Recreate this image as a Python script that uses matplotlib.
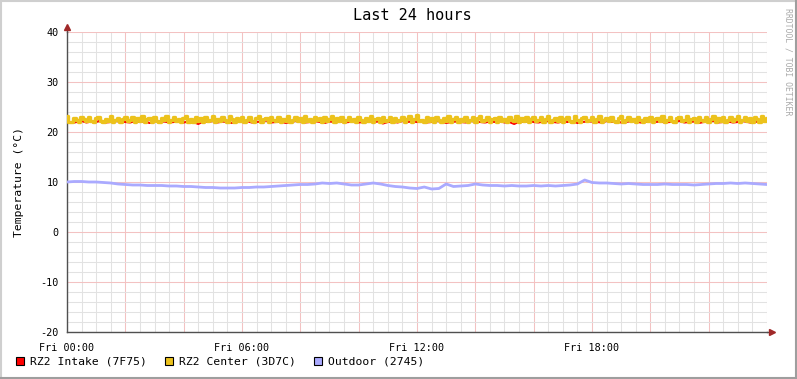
import numpy as np
import matplotlib.pyplot as plt
from matplotlib.patches import Rectangle
from matplotlib.lines import Line2D

# ---- data (hours since Fri 00:00) ----
intake = [  # RZ2 Intake, 10 min steps
    22.1, 21.8, 22.0, 22.2, 21.9, 22.1, 22.0, 22.3, 21.9, 22.0, 22.2, 22.1,
    22.0, 21.9, 22.2, 22.0, 22.1, 21.8, 22.2, 22.0, 22.1, 21.9, 22.0, 22.2,
    21.9, 22.1, 22.0, 21.6, 22.1, 22.0, 22.2, 21.9, 22.1, 22.0, 21.8, 22.1,
    22.0, 22.2, 21.9, 22.0, 22.1, 22.3, 21.9, 22.0, 22.1, 21.8, 22.0, 22.2,
    22.1, 21.9, 22.0, 22.2, 22.0, 21.8, 22.1, 22.0, 22.2, 21.9, 22.0, 22.1,
    21.9, 22.0, 22.2, 22.0, 22.1, 21.7, 22.0, 22.1, 21.9, 22.2, 22.0, 22.1,
    22.0, 22.1, 21.9, 22.0, 22.2, 22.1, 21.8, 22.0, 22.1, 22.0, 21.9, 22.2,
    22.1, 22.0, 21.9, 22.1, 22.0, 22.2, 21.9, 22.0, 21.6, 22.1, 22.0, 22.2,
    22.0, 21.9, 22.1, 22.2, 22.0, 21.9, 22.1, 22.0, 22.2, 21.8, 22.0, 22.1,
    22.1, 22.0, 21.9, 22.2, 22.0, 22.1, 21.9, 22.0, 22.2, 22.1, 21.9, 22.0,
    22.2, 22.0, 22.1, 21.9, 22.0, 22.1, 22.2, 21.9, 22.0, 22.1, 21.8, 22.0,
    22.1, 22.2, 21.9, 22.0, 22.1, 21.9, 22.0, 22.2, 22.0, 21.8, 22.1, 22.0,
    22.1,
]

center = [  # RZ2 Center, 5 min steps
    23.3, 22.1, 22.0, 22.9, 22.4, 22.1, 23.0, 22.6, 22.2, 23.1, 22.3, 22.0,
    22.8, 23.1, 22.2, 22.0, 22.7, 22.3, 23.2, 22.1, 22.5, 22.9, 22.0, 22.6,
    23.1, 22.2, 22.4, 23.0, 22.1, 22.8, 22.2, 23.2, 22.0, 22.6, 22.9, 22.1,
    23.0, 22.3, 22.1, 22.9, 22.5, 23.2, 22.0, 22.4, 23.1, 22.2, 22.7, 22.0,
    22.9, 23.2, 22.1, 22.6, 22.0, 23.0, 22.3, 22.8, 22.1, 23.1, 22.2, 22.5,
    23.3, 22.0, 22.7, 22.2, 23.0, 22.4, 22.1, 23.2, 22.6, 22.0, 22.9, 22.3,
    23.1, 22.1, 22.5, 23.0, 22.2, 22.0, 22.8, 23.2, 22.1, 22.6, 22.9, 22.0,
    23.0, 22.4, 22.2, 23.1, 22.0, 22.7, 22.3, 23.2, 22.1, 22.5, 23.0, 22.2,
    22.8, 22.1, 23.2, 22.3, 22.6, 22.0, 23.1, 22.4, 22.9, 22.1, 23.0, 22.2,
    22.6, 23.2, 22.0, 22.8, 22.3, 23.1, 22.1, 22.5, 23.0, 22.2, 22.7, 22.0,
    23.1, 22.4, 22.1, 22.9, 22.2, 23.2, 22.0, 22.6, 22.9, 22.1, 23.0, 22.3,
    22.5, 23.1, 22.0, 22.8, 22.2, 22.4, 23.0, 22.1, 22.7, 23.2, 22.0, 22.6,
    23.4, 22.2, 22.5, 22.0, 23.0, 22.3, 22.8, 22.1, 23.1, 22.4, 22.0, 22.9,
    22.2, 23.2, 22.1, 22.6, 23.0, 22.0, 22.7, 22.3, 23.1, 22.1, 22.5, 23.0,
    22.1, 22.8, 23.2, 22.2, 22.4, 23.0, 22.0, 22.6, 22.9, 22.1, 23.1, 22.3,
    22.7, 22.0, 23.0, 22.4, 22.2, 23.2, 22.1, 22.8, 22.3, 23.0, 22.0, 22.6,
    23.1, 22.2, 22.5, 23.0, 22.1, 22.7, 23.2, 22.0, 22.4, 22.9, 22.2, 23.1,
    22.0, 22.6, 23.0, 22.3, 22.1, 23.2, 22.5, 22.0, 22.8, 23.1, 22.2, 22.4,
    23.0, 22.1, 22.7, 23.2, 22.0, 22.5, 22.9, 22.2, 23.1, 22.3, 22.0, 22.8,
    23.2, 22.1, 22.4, 23.0, 22.2, 22.7, 22.0, 23.1, 22.5, 22.1, 22.9, 22.3,
    23.1, 22.0, 22.6, 22.9, 22.2, 23.2, 22.1, 22.4, 23.0, 22.3, 22.0, 22.8,
    23.1, 22.2, 22.5, 23.2, 22.0, 22.7, 22.9, 22.1, 23.0, 22.4, 22.2, 23.1,
    22.1, 22.6, 23.2, 22.0, 22.8, 22.3, 23.1, 22.1, 22.5, 23.0, 22.2, 22.7,
    23.2, 22.0, 22.4, 23.1, 22.2, 22.9, 22.1, 23.0, 22.6, 22.1, 23.2, 22.3,
    22.8,
]

outdoor = [  # Outdoor, 15 min steps
    10.0, 10.1, 10.1, 10.0, 10.0, 9.9, 9.8, 9.6,
    9.5, 9.4, 9.4, 9.3, 9.3, 9.3, 9.2, 9.2,
    9.1, 9.1, 9.0, 8.9, 8.9, 8.8, 8.8, 8.8,
    8.9, 8.9, 9.0, 9.0, 9.1, 9.2, 9.3, 9.4,
    9.5, 9.5, 9.6, 9.8, 9.7, 9.8, 9.6, 9.4,
    9.4, 9.6, 9.8, 9.6, 9.3, 9.1, 9.0, 8.8,
    8.7, 9.0, 8.6, 8.7, 9.6, 9.1, 9.2, 9.3,
    9.6, 9.4, 9.3, 9.3, 9.2, 9.3, 9.2, 9.2,
    9.3, 9.2, 9.3, 9.2, 9.3, 9.4, 9.6, 10.4,
    9.9, 9.8, 9.8, 9.7, 9.6, 9.7, 9.6, 9.5,
    9.5, 9.5, 9.6, 9.5, 9.5, 9.5, 9.4, 9.5,
    9.6, 9.7, 9.7, 9.8, 9.7, 9.8, 9.7, 9.6,
    9.5,
]

labels = ['RZ2 Intake (7F75)', 'RZ2 Center (3D7C)', 'Outdoor (2745)']
colors = ['#ff0000', '#ecc21c', '#aaaaff']
xtick_pos = [0, 6, 12, 18]
xtick_lbl = ['Fri 00:00', 'Fri 06:00', 'Fri 12:00', 'Fri 18:00']

W, H = 797, 379
plt.rcParams['font.family'] = 'DejaVu Sans Mono'
plt.rcParams['axes.unicode_minus'] = False
plt.rcParams['path.simplify'] = False

fig = plt.figure(figsize=(W / 100, H / 100), dpi=100, facecolor='white')
ax = fig.add_axes([67 / W, (H - 332) / H, 700 / W, 300 / H])

t_int = np.arange(len(intake)) / 6.0
t_cen = np.arange(len(center)) / 12.0
t_out = np.arange(len(outdoor)) / 4.0

ax.plot(t_int, intake, color=colors[0], lw=1.5, zorder=3)
ax.plot(t_cen, center, color=colors[1], lw=2.4, zorder=4, drawstyle='steps-mid')
ax.plot(t_out, outdoor, color=colors[2], lw=2.0, zorder=5)

ax.set_xlim(0, 24)
ax.set_ylim(-20, 40)

# grid like rrdtool
ax.set_xticks(np.arange(0, 24.01, 2))
ax.set_xticks(np.arange(0, 24.01, 0.5), minor=True)
ax.set_yticks(np.arange(-20, 41, 10))
ax.set_yticks(np.arange(-20, 41, 2), minor=True)
ax.grid(which='minor', color='#e2e2e2', lw=0.75, zorder=0)
ax.grid(which='major', color='#f3c2c2', lw=0.75, zorder=1)
ax.set_axisbelow(True)

ax.set_xticklabels([xtick_lbl[xtick_pos.index(int(v))] if int(v) in xtick_pos else ''
                    for v in np.arange(0, 24.01, 2)])
ax.tick_params(which='both', length=0, labelsize=7.3, pad=8)
ax.tick_params(axis='y', pad=6)

for s in ['top', 'right']:
    ax.spines[s].set_visible(False)
for s in ['left', 'bottom']:
    ax.spines[s].set_color('#505050')
    ax.spines[s].set_linewidth(1.0)

# arrows
ax.plot([0, 0], [1, 1.018], transform=ax.transAxes, color='#505050', lw=1, clip_on=False)
ax.plot([1, 1.007], [0, 0], transform=ax.transAxes, color='#505050', lw=1, clip_on=False)
ax.plot([0], [1.018], transform=ax.transAxes, marker='^', ms=4, color='#a02828', clip_on=False)
ax.plot([1.007], [0], transform=ax.transAxes, marker='>', ms=4, color='#a02828', clip_on=False)

ax.set_ylabel('Temperature (°C)', fontsize=8.2, labelpad=12)
fig.text(412 / W, 1 - 16 / H, 'Last 24 hours', ha='center', va='center', fontsize=11)
fig.text(788 / W, 1 - 8 / H, 'RRDTOOL / TOBI OETIKER', rotation=-90, ha='center', va='top',
         fontsize=5.9, color='#aaaaaa')

# legend
for i, (lab, c) in enumerate(zip(labels, colors)):
    x0 = 16 + 149 * i
    fig.patches.append(Rectangle((x0 / W, 1 - 365 / H), 8 / W, 8 / H, transform=fig.transFigure,
                                 facecolor=c, edgecolor='black', lw=0.8))
    fig.text((x0 + 14) / W, 1 - 361 / H, lab, ha='left', va='center', fontsize=8.2)

# rrdtool shade frame
fig.add_artist(Line2D([0, 1], [1 - 1 / H, 1 - 1 / H], color='#cfcfcf', lw=1.5))
fig.add_artist(Line2D([1 / W, 1 / W], [0, 1], color='#cfcfcf', lw=1.5))
fig.add_artist(Line2D([0, 1], [1 / H, 1 / H], color='#9e9e9e', lw=1.5))
fig.add_artist(Line2D([1 - 1 / W, 1 - 1 / W], [0, 1], color='#9e9e9e', lw=1.5))

fig.savefig('out.png', dpi=100, facecolor='white')
